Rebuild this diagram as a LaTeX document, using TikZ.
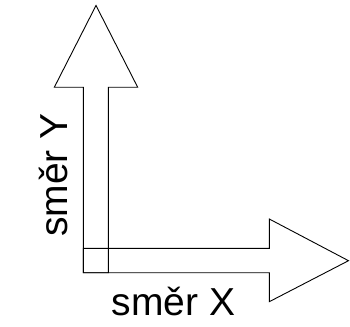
\documentclass[tikz,border=0pt]{standalone}
\usepackage{fontspec}
\setmainfont{Liberation Sans}
\begin{document}
\begin{tikzpicture}[x=1pt,y=-1pt,
  arrowshape/.style={draw=black,line width=0.9pt,line join=miter,fill=none},
  lbl/.style={font=\fontsize{39}{47}\selectfont,inner sep=0pt}]
\useasboundingbox (0,0) rectangle (350,326);
% vertical arrow
\draw[arrowshape] (83.3,272.7) -- (83.3,87.3) -- (54.3,87.3) -- (96,5.5) -- (137.7,87.3) -- (108.3,87.3) -- (108.3,272.7) -- cycle;
% horizontal arrow
\draw[arrowshape] (83.3,248.3) -- (269.3,248.3) -- (269.3,219) -- (348.5,260.7) -- (269.3,301.7) -- (269.3,272.7) -- (83.3,272.7) -- cycle;
\node[lbl,anchor=base] (sx) at (173.3,315) {směr X};
\node[lbl,anchor=base,rotate=90] (sy) at (67.3,175) {směr Y};
\end{tikzpicture}
\end{document}
